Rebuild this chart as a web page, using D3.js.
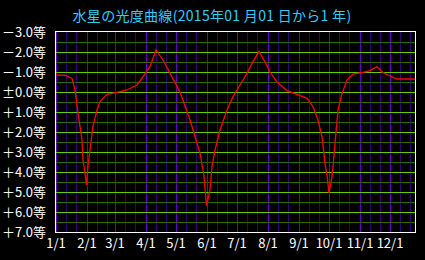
<!DOCTYPE html>
<html>
<head>
<meta charset="utf-8">
<script src="https://cdn.jsdelivr.net/npm/d3@7"></script>
<style>
  body { margin: 0; background: #000; }
  svg { display: block; }
</style>
</head>
<body>
<script>
const width = 425;
const height = 260;

// days since 2015-01-01 and Mercury's magnitude
const dayOffsets = [0, 10, 13, 16, 19, 22, 26, 27, 29, 30.5, 32, 34, 37, 41, 44, 51, 61, 71, 81, 87, 94, 100,
  107, 112, 114, 124, 134, 144, 148, 150.5, 154, 156, 159, 164, 171, 177, 184, 191, 196, 203,
  209, 214, 221, 231, 241, 251, 257, 262, 266, 269, 271, 273, 276, 277, 279, 282, 286, 291,
  297, 307, 314, 321, 327, 334, 341, 359];
const magnitudes = [-0.85, -0.83, -0.75, -0.68, -0.1, 1.05, 2.4, 3.4, 4.05, 4.65, 3.7, 2.9, 1.7, 0.9, 0.48, 0.12, 0.02, -0.1, -0.35, -0.77, -1.27, -2.1,
  -1.6, -1.13, -0.93, 0.0, 1.4, 3.05, 4.2, 5.7, 4.9, 3.73, 2.9, 1.9, 0.9, 0.23, -0.35, -0.93, -1.43, -2.03,
  -1.5, -1.0, -0.5, -0.07, 0.12, 0.32, 0.73, 1.4, 2.23, 3.57, 4.15, 5.05, 4.23, 3.73, 2.57, 0.9, 0.07, -0.6,
  -0.9, -0.98, -1.07, -1.27, -0.97, -0.8, -0.65, -0.65];

const monthStarts = [0, 31, 59, 90, 120, 151, 181, 212, 243, 273, 304, 334];
const monthLabels = ["1/1", "2/1", "3/1", "4/1", "5/1", "6/1", "7/1", "8/1", "9/1", "10/1", "11/1", "12/1"];
const magTicks = [-3, -2, -1, 0, 1, 2, 3, 4, 5, 6, 7];
const magLabels = ["－3.0等", "－2.0等", "－1.0等", "±0.0等", "＋1.0等", "＋2.0等", "＋3.0等", "＋4.0等", "＋5.0等", "＋6.0等", "＋7.0等"];
const title = "水星の光度曲線(2015年01 月01 日から1 年)";

const x = d3.scaleLinear().domain([0, 360]).range([56, 416]);
const y = d3.scaleLinear().domain([-3, 7]).range([32, 232]);

const svg = d3.select("body").append("svg")
  .attr("width", width)
  .attr("height", height);

svg.append("rect").attr("width", width).attr("height", height).attr("fill", "#000");

const grid = svg.append("g").attr("shape-rendering", "crispEdges");

// dim vertical lines on the 11th and 21st
monthStarts.forEach(m => {
  [10, 20].forEach(off => {
    if (m + off < 360) {
      grid.append("line")
        .attr("x1", Math.round(x(m + off)) + 0.5).attr("x2", Math.round(x(m + off)) + 0.5)
        .attr("y1", y(-3)).attr("y2", y(7))
        .attr("stroke", "#330077");
    }
  });
});
// bright vertical lines at month starts
monthStarts.forEach(m => {
  grid.append("line")
    .attr("x1", Math.round(x(m)) + 0.5).attr("x2", Math.round(x(m)) + 0.5)
    .attr("y1", y(-3)).attr("y2", y(7))
    .attr("stroke", "#6600cc");
});

// horizontal lines
d3.range(-2.5, 7, 0.5).forEach(v => {
  const isInt = Number.isInteger(v);
  grid.append("line")
    .attr("x1", x(0)).attr("x2", x(360))
    .attr("y1", Math.round(y(v)) + 0.5).attr("y2", Math.round(y(v)) + 0.5)
    .attr("stroke", isInt ? "#66cc00" : "#336600");
});

// frame
grid.append("rect")
  .attr("x", 55.5).attr("y", 31.5)
  .attr("width", 360).attr("height", 201)
  .attr("fill", "none")
  .attr("stroke", "#fff");

// curve
const points = dayOffsets.map((d, i) => [d, magnitudes[i]]);
svg.append("path")
  .datum(points)
  .attr("fill", "none")
  .attr("stroke", "#ff0000")
  .attr("stroke-width", 1.3)
  .attr("d", d3.line().x(d => x(d[0])).y(d => y(d[1])));

// y labels
svg.append("g").selectAll("text")
  .data(magTicks)
  .join("text")
  .attr("x", 46)
  .attr("y", d => y(d))
  .attr("dy", "0.35em")
  .attr("text-anchor", "end")
  .attr("fill", "#fff")
  .attr("font-family", "'Noto Sans CJK JP', sans-serif")
  .attr("font-size", 13)
  .text((d, i) => magLabels[i]);

// x labels
svg.append("g").selectAll("text")
  .data(monthStarts)
  .join("text")
  .attr("x", d => x(d))
  .attr("y", 243)
  .attr("dy", "0.35em")
  .attr("text-anchor", "middle")
  .attr("fill", "#fff")
  .attr("font-family", "'Noto Sans CJK JP', sans-serif")
  .attr("font-size", 13)
  .text((d, i) => monthLabels[i]);

// title
svg.append("text")
  .attr("x", 212)
  .attr("y", 16)
  .attr("dy", "0.35em")
  .attr("text-anchor", "middle")
  .attr("fill", "#33ccff")
  .attr("font-family", "'Noto Sans CJK JP', sans-serif")
  .attr("font-size", 14)
  .attr("letter-spacing", 0.3)
  .text(title);
</script>
</body>
</html>
